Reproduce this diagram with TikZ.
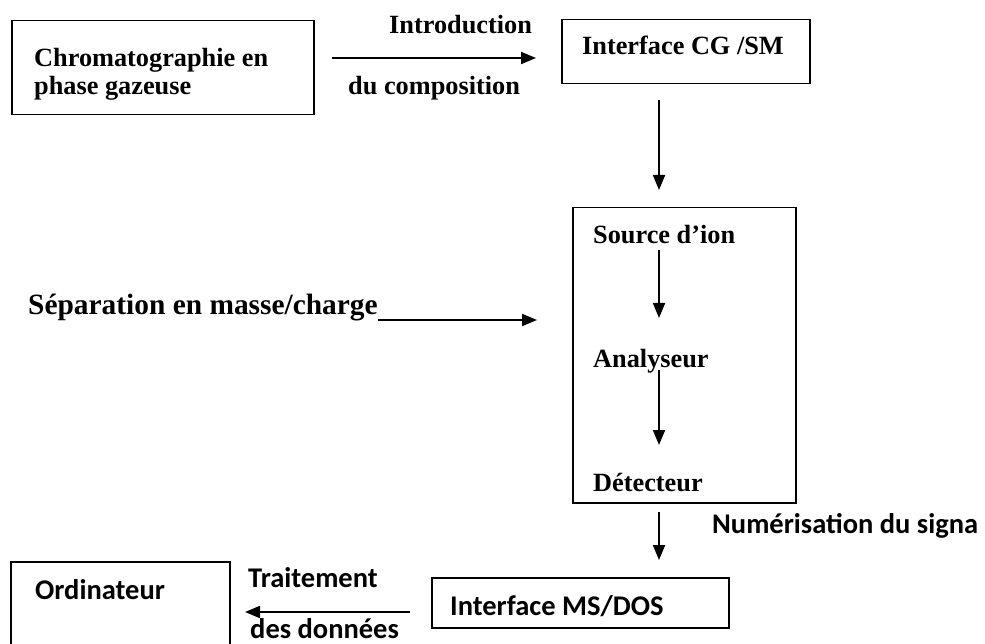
\documentclass[tikz,border=0pt]{standalone}
\usepackage{fontspec}
\setmainfont{Liberation Serif}
\newfontfamily\calibri{Carlito}
\usetikzlibrary{arrows.meta}
\begin{document}
\begin{tikzpicture}[x=1pt,y=-1pt,
  box/.style={draw, line width=1.5pt, anchor=north west, inner sep=0pt},
  lbl/.style={anchor=base west, inner sep=0pt, font=\fontsize{26.3}{30}\selectfont\bfseries},
  biglbl/.style={anchor=base west, inner sep=0pt, font=\fontsize{29.4}{34}\selectfont\bfseries},
  slbl/.style={anchor=base west, inner sep=0pt, font=\fontsize{28.5}{32}\selectfont\calibri\bfseries},
  arr/.style={line width=2pt, -{Triangle[length=15pt,width=12pt]}}]
\useasboundingbox (0,0) rectangle (985,644);

% frames
\node[box, minimum width=302pt, minimum height=94pt] (cpg) at (11,20) {};
\node[box, minimum width=248pt, minimum height=64pt] (cgsm) at (561,19) {};
\node[box, minimum width=223pt, minimum height=295pt] (ms) at (572,207) {};
\node[box, minimum width=297pt, minimum height=50pt] (msdos) at (431,577) {};
\node[box, minimum width=219pt, minimum height=130pt] (ordi) at (10,561) {};

% texts
\node[lbl] (t1) at (34,67) {Chromatographie en};
\node[lbl] (t2) at (34,95) {phase gazeuse};
\node[lbl] (intro) at (389,34) {Introduction};
\node[lbl] (compo) at (348,95) {du composition};
\node[lbl] (t3) at (582,55) {Interface CG /SM};
\node[lbl] (src) at (593,244) {Source d’ion};
\node[lbl] (ana) at (593,367) {Analyseur};
\node[lbl] (det) at (593,491) {Détecteur};
\node[biglbl] (sep) at (28,315) {Séparation en masse/charge};
\node[slbl] (num) at (712,533) {Numérisation du signa};
\node[slbl] (t4) at (450,615) {Interface MS/DOS};
\node[slbl] (t5) at (35,599) {Ordinateur};
\node[slbl] (trait) at (248,587) {Traitement};
\node[slbl] (don) at (250,638) {des données};

% connector ends
\coordinate (a1) at (332,58);  \coordinate (a2) at (536,58);
\coordinate (b1) at (659,100); \coordinate (b2) at (659,190);
\coordinate (c1) at (659,250); \coordinate (c2) at (659,318);
\coordinate (d1) at (659,370); \coordinate (d2) at (659,445);
\coordinate (e1) at (378,320); \coordinate (e2) at (537,320);
\coordinate (f1) at (659,512); \coordinate (f2) at (659,560);
\coordinate (g1) at (410,612); \coordinate (g2) at (245,612);

\draw[arr] (a1) -- (a2);
\draw[arr] (b1) -- (b2);
\draw[arr] (c1) -- (c2);
\draw[arr] (d1) -- (d2);
\draw[arr] (e1) -- (e2);
\draw[arr] (f1) -- (f2);
\draw[arr] (g1) -- (g2);
\end{tikzpicture}
\end{document}
